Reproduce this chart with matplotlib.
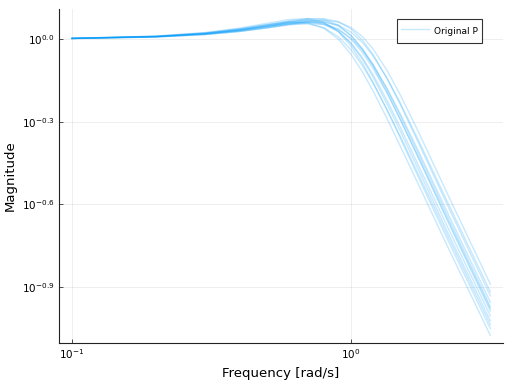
import matplotlib
matplotlib.use('Agg')
import matplotlib.pyplot as plt

# frequencies [rad/s]
freq = [0.1, 0.2, 0.3, 0.4, 0.5, 0.6, 0.7, 0.8, 0.9, 1.0, 1.1, 1.2, 1.35, 1.5, 1.75, 2.2, 3.16]

# magnitude of each uncertain sample of P (x1000)
mag1 = [1006, 1024, 1053, 1090, 1128, 1152, 1146, 1095, 1000, 881, 759, 648, 512, 410, 295, 180, 84]
mag2 = [1006, 1025, 1056, 1096, 1141, 1177, 1186, 1150, 1064, 944, 816, 697, 549, 439, 313, 191, 89]
mag3 = [1005, 1021, 1047, 1079, 1112, 1136, 1136, 1098, 1020, 915, 800, 691, 553, 445, 321, 197, 92]
mag4 = [1006, 1023, 1050, 1086, 1126, 1159, 1170, 1143, 1071, 964, 844, 728, 579, 465, 334, 203, 95]
mag5 = [1005, 1021, 1046, 1079, 1115, 1144, 1154, 1130, 1066, 968, 855, 743, 596, 481, 346, 212, 99]
mag6 = [1005, 1022, 1049, 1084, 1125, 1163, 1186, 1177, 1124, 1031, 916, 797, 639, 513, 368, 223, 103]
mag7 = [1005, 1020, 1044, 1075, 1109, 1140, 1155, 1140, 1087, 1000, 893, 782, 633, 512, 370, 226, 105]
mag8 = [1005, 1020, 1045, 1077, 1114, 1149, 1169, 1161, 1115, 1030, 923, 810, 654, 529, 381, 232, 107]
mag9 = [1005, 1018, 1039, 1067, 1098, 1125, 1140, 1129, 1084, 1008, 910, 806, 659, 537, 390, 239, 111]
mag10 = [1005, 1019, 1043, 1075, 1113, 1151, 1180, 1186, 1157, 1088, 990, 878, 716, 581, 418, 254, 117]
mag11 = [1004, 1017, 1038, 1066, 1098, 1129, 1151, 1152, 1123, 1060, 971, 869, 718, 588, 427, 261, 121]
mag12 = [1004, 1017, 1038, 1066, 1099, 1133, 1160, 1170, 1153, 1102, 1020, 921, 766, 629, 458, 279, 129]
samples = [mag1, mag2, mag3, mag4, mag5, mag6, mag7, mag8, mag9, mag10, mag11, mag12]

xticks = [0.1, 1.0]
xticklabels = ['$10^{-1}$', '$10^{0}$']
yticks = [10**0.0, 10**-0.3, 10**-0.6, 10**-0.9]
yticklabels = ['$10^{0.0}$', '$10^{-0.3}$', '$10^{-0.6}$', '$10^{-0.9}$']

blue = '#009AFA'

fig = plt.figure(figsize=(5.12, 3.84), dpi=100)
ax = fig.add_axes([0.1152, 0.1068, 0.8672, 0.8698])

for i, m in enumerate(samples):
    ax.plot(freq, [v / 1000 for v in m], color=blue, alpha=0.22, lw=1.0,
            label='Original P' if i == 0 else None)

ax.set_xscale('log')
ax.set_yscale('log')
ax.set_xlim(10**-1.0466, 10**0.545)
ax.set_ylim(10**-1.103, 10**0.109)

ax.set_xticks(xticks)
ax.set_xticklabels(xticklabels, fontsize=7.5)
ax.set_yticks(yticks)
ax.set_yticklabels(yticklabels, fontsize=7.5)
ax.minorticks_off()
ax.tick_params(direction='in', length=3, width=0.6, color='#333333', pad=3)

ax.grid(True, color='black', alpha=0.08, lw=0.6)
for s in ['top', 'right']:
    ax.spines[s].set_visible(False)
for s in ['left', 'bottom']:
    ax.spines[s].set_linewidth(0.8)
    ax.spines[s].set_color('#222222')

ax.set_xlabel('Frequency [rad/s]', fontsize=9.5)
ax.set_ylabel('Magnitude', fontsize=9.5)

leg = ax.legend(loc='upper right', fontsize=6.5, frameon=True, fancybox=False,
                borderpad=0.45, handlelength=3.1, handletextpad=0.55,
                handleheight=2.4, borderaxespad=0,
                bbox_to_anchor=(0.953, 0.970))
leg.get_frame().set_edgecolor('black')
leg.get_frame().set_linewidth(0.8)

fig.savefig('out.png', dpi=100)
